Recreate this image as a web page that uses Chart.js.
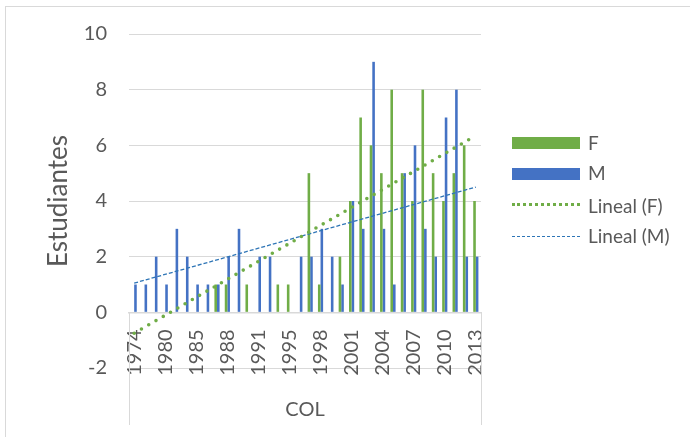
<!DOCTYPE html>
<html>
<head>
<meta charset="utf-8">
<script src="https://cdn.jsdelivr.net/npm/chart.js@4"></script>
<style>
  html, body { margin: 0; padding: 0; overflow: hidden; background: #fff; }
  #wrap { position: relative; width: 690px; height: 437px; }
  #frame { position: absolute; left: 5px; top: 6px; width: 720px; height: 460px; border: 1px solid #d9d9d9; }
  canvas { position: absolute; left: 0; top: 0; }
  .lg { position: absolute; left: 512px; width: 68px; }
  .lt { position: absolute; left: 588px; font: 19px Lato, sans-serif; color: #595959; line-height: 20px; }
</style>
</head>
<body>
<div id="wrap">
  <div id="frame"></div>
  <canvas id="chart" width="690" height="437"></canvas>
  <div class="lg" style="top:137px;height:12px;background:#70AD47"></div>
  <div class="lt" style="top:133px">F</div>
  <div class="lg" style="top:168px;height:12px;background:#4472C4"></div>
  <div class="lt" style="top:163px">M</div>
  <div class="lg" style="top:203px;height:0;border-top:3px dotted #70AD47"></div>
  <div class="lt" style="top:196px">Lineal (F)</div>
  <div class="lg" style="top:236px;height:0;border-top:1px dashed #2E75B6"></div>
  <div class="lt" style="top:226px">Lineal (M)</div>
</div>
<script>
// categories (only years with data, every 3rd one labelled)
const years = ['1974','1976','1978','1980','1982','1983','1985','1986','1987','1988',
               '1989','1990','1991','1992','1993','1995','1996','1997','1998','1999',
               '2000','2001','2002','2003','2004','2005','2006','2007','2008','2009',
               '2010','2011','2012','2013'];
const femenino  = [0,0,0,0,0,0,0,0,1,1,0,1,0,0,1,1,0,5,1,0,2,4,7,6,5,8,5,4,8,5,4,5,6,4];
const masculino = [1,1,2,1,3,2,1,1,1,2,3,0,2,2,0,0,2,2,3,2,1,4,3,9,3,1,5,6,3,2,7,8,2,2];
// linear trendline ends (first and last year)
const trendF = [-0.75, 6.35];
const trendM = [1.05, 4.5];
const yTicks = [-2, 0, 2, 4, 6, 8, 10];

const gray = '#595959';
const gridColor = '#d9d9d9';

// draws the outer category level: separators and the "COL" group label
const groupLabel = {
    id: 'groupLabel',
    afterDraw(chart) {
        const {ctx, chartArea} = chart;
        const y0 = chart.scales.y.getPixelForValue(0);
        ctx.save();
        ctx.strokeStyle = gridColor;
        ctx.lineWidth = 1;
        [chartArea.left, chartArea.right].forEach(x => {
            ctx.beginPath();
            ctx.moveTo(Math.round(x) + 0.5, y0);
            ctx.lineTo(Math.round(x) + 0.5, 425);
            ctx.stroke();
        });
        ctx.fillStyle = gray;
        ctx.font = '20px Lato, sans-serif';
        ctx.textAlign = 'center';
        ctx.textBaseline = 'middle';
        ctx.fillText('COL', (chartArea.left + chartArea.right) / 2, 410);
        ctx.restore();
    }
};

new Chart(document.getElementById('chart'), {
    data: {
        labels: years,
        datasets: [
            {
                type: 'bar', label: 'F', data: femenino,
                backgroundColor: '#70AD47', order: 2,
                categoryPercentage: 0.5, barPercentage: 1.0
            },
            {
                type: 'bar', label: 'M', data: masculino,
                backgroundColor: '#4472C4', order: 2,
                categoryPercentage: 0.5, barPercentage: 1.0
            },
            {
                type: 'line', label: 'Lineal (F)',
                data: [{x: years[0], y: trendF[0]}, {x: years[years.length - 1], y: trendF[1]}],
                borderColor: '#70AD47', borderWidth: 3.6, borderDash: [0, 8.4],
                borderCapStyle: 'round', pointRadius: 0, fill: false, order: 0
            },
            {
                type: 'line', label: 'Lineal (M)',
                data: [{x: years[0], y: trendM[0]}, {x: years[years.length - 1], y: trendM[1]}],
                borderColor: '#2E75B6', borderWidth: 1.3, borderDash: [4, 2],
                pointRadius: 0, fill: false, order: 1
            }
        ]
    },
    options: {
        responsive: false,
        animation: false,
        layout: { padding: { left: 0, right: 209, top: 31, bottom: 69 } },
        plugins: {
            legend: { display: false },
            tooltip: { enabled: false }
        },
        scales: {
            x: {
                position: { y: 0 },
                grid: { display: false, drawTicks: false },
                border: { color: gridColor, width: 1.5 },
                ticks: {
                    autoSkip: false, maxRotation: 90, minRotation: 90,
                    padding: 17, color: gray,
                    font: { family: 'Lato', size: 20 },
                    callback: (v, i) => i % 3 === 0 ? years[i] : ''
                }
            },
            y: {
                min: -2, max: 10,
                afterBuildTicks: s => { s.ticks = yTicks.map(v => ({value: v})); },
                afterFit: s => { s.width = 129; },
                grid: { color: gridColor, drawTicks: false },
                border: { display: false },
                ticks: { padding: 22, color: gray, font: { family: 'Lato', size: 20 } },
                title: {
                    display: true, text: 'Estudiantes', color: gray,
                    font: { family: 'Lato', size: 26 },
                    padding: { top: 43 }
                }
            }
        }
    },
    plugins: [groupLabel]
});
</script>
</body>
</html>
